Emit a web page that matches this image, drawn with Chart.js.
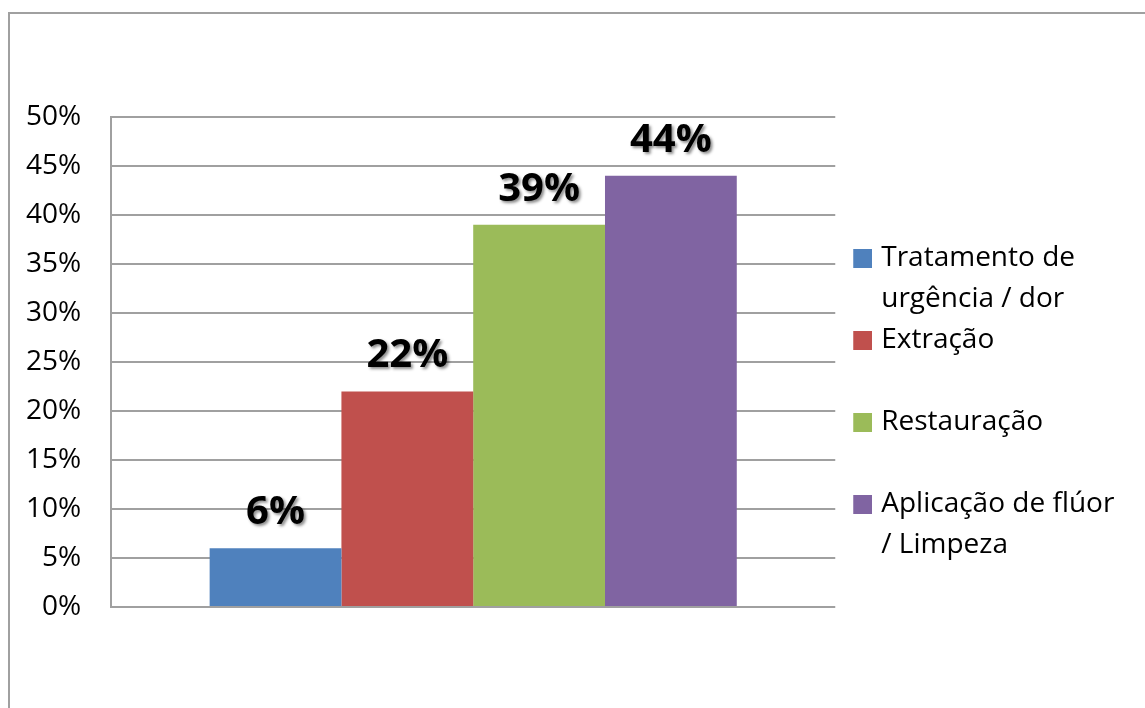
<!DOCTYPE html>
<html>
<head>
<meta charset="utf-8">
<script src="https://cdn.jsdelivr.net/npm/chart.js@4"></script>
<style>
  html, body { margin: 0; padding: 0; background: #fff; overflow: hidden; }
  #wrap { position: relative; width: 1145px; height: 708px; }
  #frame { position: absolute; left: 8px; top: 12px; width: 1200px; height: 800px; border: 2px solid #a0a0a0; }
  #chart { position: absolute; left: 0; top: 0; }
</style>
</head>
<body>
<div id="wrap">
  <div id="frame"></div>
  <canvas id="chart" width="1145" height="708"></canvas>
</div>
<script>
// dados
const categorias = [''];
const series = [
    ['Tratamento de', 'urgência / dor'],
    ['Extração', ''],
    ['Restauração', ''],
    ['Aplicação de flúor', '/ Limpeza']
];
const valores = [0.06, 0.22, 0.39, 0.44];
const cores = ['#4F81BD', '#C0504D', '#9BBB59', '#8064A2'];
const yTicks = [0, 0.05, 0.10, 0.15, 0.20, 0.25, 0.30, 0.35, 0.40, 0.45, 0.50];

const FONT = '"Open Sans", Lato, sans-serif';

// quadradinho da legenda, com o espaço à esquerda (afasta a legenda da área do gráfico)
function amostra(cor) {
    const c = document.createElement('canvas');
    c.width = 42;
    c.height = 19;
    const g = c.getContext('2d');
    g.fillStyle = cor;
    g.fillRect(23, 0, 19, 19);
    return c;
}
const amostras = cores.map(amostra);

// rótulos em negrito com sombra acima de cada barra
const rotulosPlugin = {
    id: 'rotulos',
    afterDatasetsDraw(chart) {
        const ctx = chart.ctx;
        ctx.save();
        ctx.font = 'bold 40px ' + FONT;
        ctx.textAlign = 'center';
        ctx.textBaseline = 'alphabetic';
        ctx.fillStyle = '#000';
        ctx.shadowColor = 'rgba(0,0,0,0.45)';
        ctx.shadowOffsetX = 2;
        ctx.shadowOffsetY = 2;
        ctx.shadowBlur = 3;
        chart.data.datasets.forEach((ds, i) => {
            const bar = chart.getDatasetMeta(i).data[0];
            if (!bar) return;
            ctx.fillText(Math.round(ds.data[0] * 100) + '%', bar.x, bar.y - 24);
        });
        ctx.restore();
    }
};

new Chart(document.getElementById('chart'), {
    type: 'bar',
    data: {
        labels: categorias,
        datasets: series.map((nome, i) => ({
            label: nome.join(' '),
            data: [valores[i]],
            backgroundColor: cores[i],
            borderWidth: 0,
            categoryPercentage: 0.728,
            barPercentage: 1
        }))
    },
    options: {
        responsive: false,
        animation: false,
        layout: { padding: { top: 117, bottom: 101, left: -4, right: 30 } },
        scales: {
            x: { display: false },
            y: {
                min: 0,
                max: 0.5,
                afterBuildTicks: s => { s.ticks = yTicks.map(v => ({ value: v })); },
                ticks: {
                    padding: 30,
                    color: '#000',
                    font: { family: FONT, size: 28 },
                    callback: v => Math.round(v * 100) + '%'
                },
                grid: { color: '#a0a0a0', lineWidth: 2, drawTicks: false },
                border: { color: '#a0a0a0', width: 2 }
            }
        },
        plugins: {
            tooltip: { enabled: false },
            legend: {
                position: 'right',
                align: 'start',
                title: { display: true, text: '', font: { size: 10, lineHeight: 1 }, padding: { top: 117, bottom: 0 } },
                labels: {
                    color: '#000',
                    font: { family: FONT, size: 28, lineHeight: '41px' },
                    usePointStyle: true,
                    pointStyleWidth: 32,
                    boxHeight: 19,
                    padding: 0,
                    generateLabels: chart => chart.data.datasets.map((ds, i) => ({
                        text: series[i],
                        fillStyle: cores[i],
                        strokeStyle: cores[i],
                        fontColor: '#000',
                        pointStyle: amostras[i],
                        lineWidth: 0,
                        datasetIndex: i,
                        hidden: false
                    }))
                }
            }
        }
    },
    plugins: [rotulosPlugin]
});
</script>
</body>
</html>
